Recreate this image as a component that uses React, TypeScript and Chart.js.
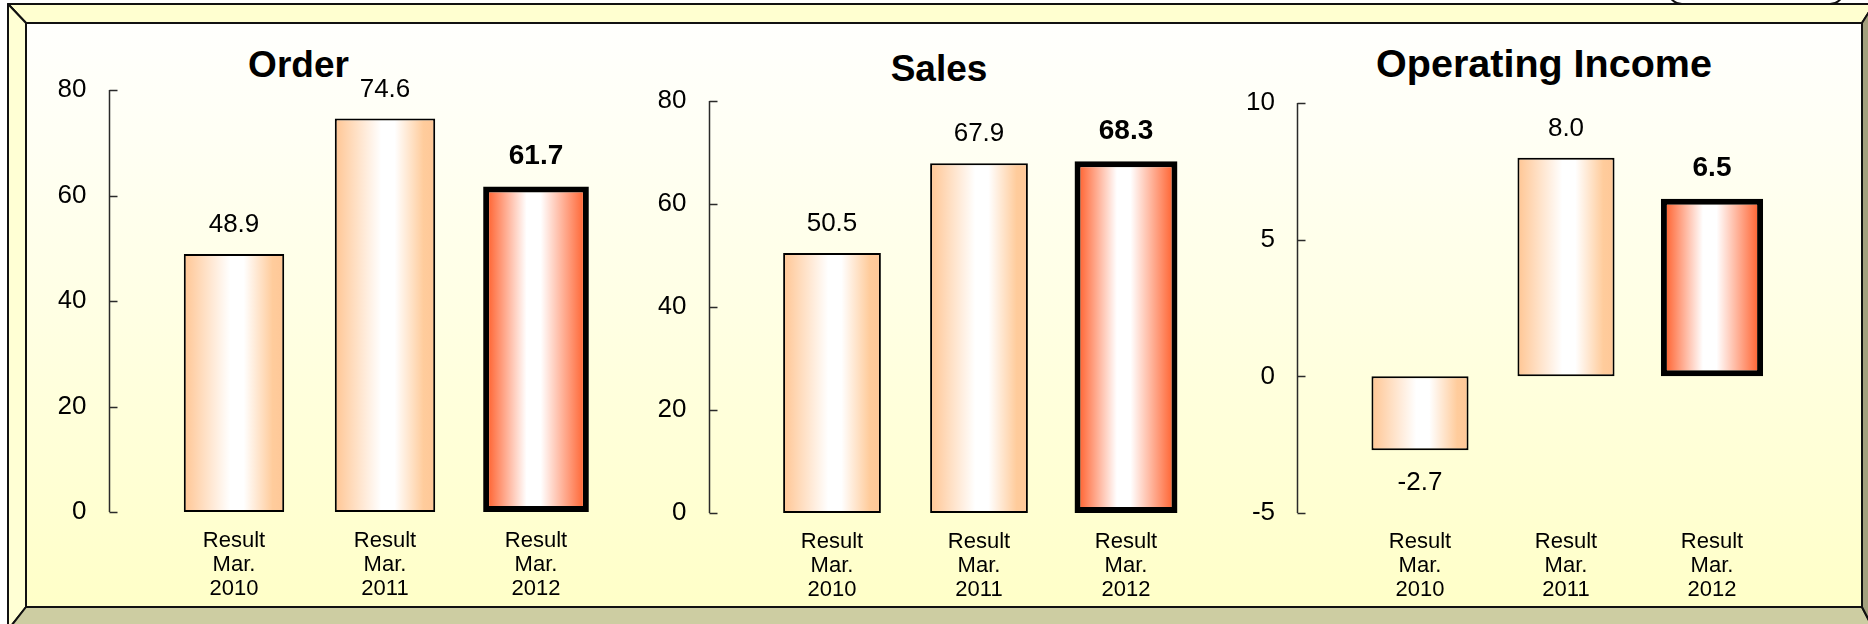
import React, { useEffect, useRef } from "react";
import { Chart, registerables } from "chart.js";

Chart.register(...registerables);

const W = 1868;
const H = 624;
const FONT = '"Liberation Sans", Arial, sans-serif';

// ---- data ----
const categories = [
  ["Result", "Mar.", "2010"],
  ["Result", "Mar.", "2011"],
  ["Result", "Mar.", "2012"],
];
const orderValues = [48.9, 74.6, 61.7];
const salesValues = [50.5, 67.9, 68.3];
const incomeValues = [-2.7, 8.0, 6.5];
const orderTicks = [0, 80, 20];
const salesTicks = [0, 80, 20];
const incomeTicks = [-5, 10, 5];
const highlightIndex = 2;
const titles = ["Order", "Sales", "Operating Income"];

// ---- layout (positions only) ----
type Panel = {
  title: string;
  values: number[];
  ticks: number[];
  area: { left: number; right: number; top: number; bottom: number };
  titleCenter: number;
  titleTop: number;
  titleSize: number;
};

const panels: Panel[] = [
  {
    title: titles[0],
    values: orderValues,
    ticks: orderTicks,
    area: { left: 158.5, right: 611.5, top: 90, bottom: 512 },
    titleCenter: 298.5,
    titleTop: 46,
    titleSize: 37,
  },
  {
    title: titles[1],
    values: salesValues,
    ticks: salesTicks,
    area: { left: 758.5, right: 1199.5, top: 101, bottom: 513 },
    titleCenter: 939,
    titleTop: 50,
    titleSize: 37,
  },
  {
    title: titles[2],
    values: incomeValues,
    ticks: incomeTicks,
    area: { left: 1347, right: 1785, top: 103, bottom: 513 },
    titleCenter: 1544,
    titleTop: 44,
    titleSize: 39.5,
  },
];

const NORMAL_STOPS: [number, string][] = [
  [0, "#ffc898"],
  [0.46, "#ffffff"],
  [0.6, "#ffffff"],
  [0.9, "#ffcc9c"],
  [1, "#ffc898"],
];
const HIGH_STOPS: [number, string][] = [
  [0, "#ff6a3a"],
  [0.4, "#ffffff"],
  [0.55, "#ffffff"],
  [1, "#ff6a3a"],
];

const NORMAL_PCT = 0.665;
const HIGH_PCT = 0.7;
const HIGH_BORDER = 6;

function barGradient(c: any, stops: [number, string][], pct: number, inset: number) {
  const chart = c.chart;
  const xs = chart.scales && chart.scales.x;
  if (c.type !== "data" || !xs || !chart.chartArea) return stops[0][1];
  const n = xs.getLabels().length;
  const center = xs.getPixelForValue(c.dataIndex);
  const half = ((xs.width / n) * pct) / 2 - inset;
  const g = chart.ctx.createLinearGradient(center - half, 0, center + half, 0);
  stops.forEach(([o, col]) => g.addColorStop(o, col));
  return g;
}

const axisPlugin = {
  id: "insideAxis",
  beforeDatasetsDraw(chart: any) {
    const ys = chart.scales.y;
    const ctx = chart.ctx;
    const ax = Math.round(chart.chartArea.left - 50) + 0.5;
    ctx.save();
    ctx.strokeStyle = "#2a2a2a";
    ctx.lineWidth = 1.5;
    ctx.beginPath();
    ctx.moveTo(ax, ys.getPixelForValue(ys.max));
    ctx.lineTo(ax, ys.getPixelForValue(ys.min));
    ys.ticks.forEach((t: any) => {
      const py = Math.round(ys.getPixelForValue(t.value)) + 0.5;
      ctx.moveTo(ax, py);
      ctx.lineTo(ax + 8, py);
    });
    ctx.stroke();
    ctx.restore();
  },
};

const valueLabelPlugin = {
  id: "valueLabels",
  afterDatasetsDraw(chart: any) {
    const ctx = chart.ctx;
    ctx.save();
    chart.data.datasets.forEach((ds: any, di: number) => {
      const meta = chart.getDatasetMeta(di);
      meta.data.forEach((el: any, i: number) => {
        const v = ds.data[i];
        if (v === null || v === undefined) return;
        const bold = di === 1;
        ctx.font = `${bold ? "bold " : ""}${bold ? 28 : 26}px ${FONT}`;
        ctx.fillStyle = "#000";
        ctx.textAlign = "center";
        ctx.textBaseline = "middle";
        const y = v >= 0 ? el.y - (bold ? 30 : 29) : el.y + 33;
        ctx.fillText(v.toFixed(1), el.x, y);
      });
    });
    ctx.restore();
  },
};

function ChartPanel({ panel }: { panel: Panel }) {
  const ref = useRef<HTMLCanvasElement | null>(null);
  useEffect(() => {
    if (!ref.current) return;
    const [min, max, step] = panel.ticks;
    const normalData = panel.values.map((v, i) => (i === highlightIndex ? null : v));
    const highData = panel.values.map((v, i) => (i === highlightIndex ? v : null));
    const Y_W = 100;
    const X_H = 100;
    const chart = new Chart(ref.current, {
      type: "bar",
      data: {
        labels: categories,
        datasets: [
          {
            data: normalData,
            grouped: false,
            barPercentage: NORMAL_PCT,
            categoryPercentage: 1,
            borderColor: "#000",
            borderWidth: 2,
            borderSkipped: false,
            backgroundColor: (c: any) => barGradient(c, NORMAL_STOPS, NORMAL_PCT, 2),
          },
          {
            data: highData,
            grouped: false,
            barPercentage: HIGH_PCT,
            categoryPercentage: 1,
            borderColor: "#000",
            borderWidth: HIGH_BORDER,
            borderSkipped: false,
            backgroundColor: (c: any) => barGradient(c, HIGH_STOPS, HIGH_PCT, HIGH_BORDER),
          },
        ],
      } as any,
      options: {
        responsive: false,
        animation: false,
        devicePixelRatio: 1,
        events: [],
        layout: {
          padding: {
            left: panel.area.left - Y_W,
            right: W - panel.area.right,
            top: panel.area.top,
            bottom: H - panel.area.bottom - X_H,
          },
        },
        plugins: {
          legend: { display: false },
          title: { display: false },
          tooltip: { enabled: false },
        },
        scales: {
          x: {
            type: "category",
            grid: { display: false, drawTicks: false },
            border: { display: false },
            ticks: {
              padding: 17,
              color: "#000",
              font: { family: FONT, size: 22, lineHeight: 1.09 },
              maxRotation: 0,
              autoSkip: false,
            },
            afterFit: (s: any) => {
              s.height = X_H;
            },
          },
          y: {
            min,
            max,
            grid: { display: false, drawTicks: false },
            border: { display: false },
            ticks: {
              stepSize: step,
              padding: 72,
              color: "#000",
              font: { family: FONT, size: 26 },
            },
            afterFit: (s: any) => {
              s.width = Y_W;
            },
          },
        },
      } as any,
      plugins: [axisPlugin, valueLabelPlugin],
    });
    return () => chart.destroy();
  }, [panel]);
  return (
    <canvas
      ref={ref}
      width={W}
      height={H}
      style={{ position: "absolute", left: 0, top: 0, width: W, height: H }}
    />
  );
}

function Frame() {
  const oL = 8, oT = 4, oR = 1874, oB = 630;
  const iL = 26, iT = 23, iR = 1862, iB = 607;
  return (
    <svg width={W} height={H} style={{ position: "absolute", left: 0, top: 0 }}>
      <defs>
        <linearGradient id="face" x1="0" y1="0" x2="0" y2="1">
          <stop offset="0" stopColor="#fffffd" />
          <stop offset="0.2" stopColor="#fffff4" />
          <stop offset="1" stopColor="#ffffc8" />
        </linearGradient>
      </defs>
      <rect x={iL} y={iT} width={iR - iL} height={iB - iT} fill="url(#face)" />
      <polygon points={`${oL},${oT} ${oR},${oT} ${iR},${iT} ${iL},${iT}`} fill="#ffffd0" stroke="#111" strokeWidth={2} strokeLinejoin="round" />
      <polygon points={`${oL},${oT} ${iL},${iT} ${iL},${iB} ${oL},${oB}`} fill="#ffffd4" stroke="#111" strokeWidth={2} strokeLinejoin="round" />
      <polygon points={`${oL},${oB} ${iL},${iB} ${iR},${iB} ${oR},${oB}`} fill="#cdcda2" stroke="#111" strokeWidth={2} strokeLinejoin="round" />
      <polygon points={`${oR},${oT} ${iR},${iT} ${iR},${iB} ${oR},${oB}`} fill="#a3a07e" stroke="#111" strokeWidth={2} strokeLinejoin="round" />
      <rect x={1668} y={-30} width={176} height={34} rx={14} ry={14} fill="#ffffff" stroke="#111" strokeWidth={2} />
    </svg>
  );
}

export default function App() {
  return (
    <div
      style={{
        position: "absolute",
        left: 0,
        top: 0,
        width: W,
        height: H,
        overflow: "hidden",
        fontFamily: FONT,
      }}
    >
      <Frame />
      {panels.map((p) => (
        <div
          key={p.title + "-t"}
          style={{
            position: "absolute",
            left: p.titleCenter - 250,
            width: 500,
            top: p.titleTop,
            textAlign: "center",
            fontWeight: "bold",
            fontSize: p.titleSize,
            lineHeight: 1,
            color: "#000",
            whiteSpace: "nowrap",
          }}
        >
          {p.title}
        </div>
      ))}
      {panels.map((p) => (
        <ChartPanel key={p.title} panel={p} />
      ))}
    </div>
  );
}
